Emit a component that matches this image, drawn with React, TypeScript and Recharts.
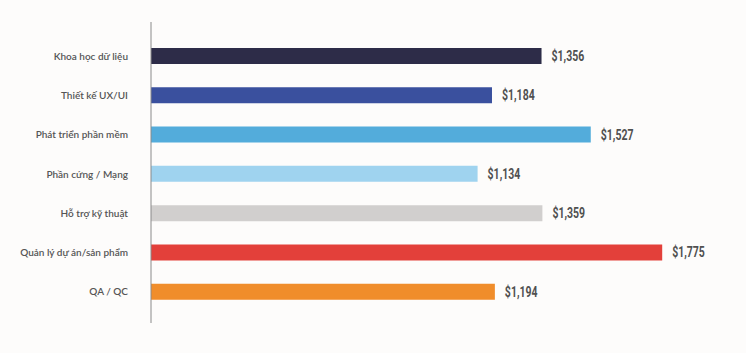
import { BarChart, Bar, XAxis, YAxis, Cell, LabelList } from 'recharts';

const categories = [
  'Khoa học dữ liệu',
  'Thiết kế UX/UI',
  'Phát triển phần mềm',
  'Phần cứng / Mạng',
  'Hỗ trợ kỹ thuật',
  'Quản lý dự án/sản phẩm',
  'QA / QC',
];
const salaries = [1356, 1184, 1527, 1134, 1359, 1775, 1194];
const barColors = ['#2d2c48', '#3a509e', '#53acdb', '#9fd3ef', '#d1cfce', '#e3403a', '#f08d2b'];

const data = categories.map((name, i) => ({ name, value: salaries[i] }));

function CategoryTick(props: any) {
  const { x, y, payload } = props;
  return (
    <text
      x={x - 15}
      y={y}
      dy={4}
      textAnchor="end"
      fill="#555"
      fontSize={10}
      fontWeight={600}
      fontFamily="Lato, sans-serif"
    >
      {payload.value}
    </text>
  );
}

function ValueLabel(props: any) {
  const { x, y, width, height, value } = props;
  const lx = x + width + 10;
  const ly = y + height / 2 + 5;
  return (
    <text
      transform={`translate(${lx}, ${ly}) scale(0.7, 1)`}
      fill="#505050"
      fontSize={15}
      fontWeight={700}
      fontFamily="Roboto, sans-serif"
    >
      {`$${Number(value).toLocaleString('en-US')}`}
    </text>
  );
}

export default function App() {
  return (
    <div style={{ position: 'absolute', left: 0, top: 0, width: 746, height: 353, background: '#fdfcfb' }}>
      <BarChart
        width={746}
        height={353}
        data={data}
        layout="vertical"
        margin={{ top: 22, right: 19, bottom: 30, left: 0 }}
      >
        <XAxis type="number" domain={[0, 2000]} hide />
        <YAxis
          type="category"
          dataKey="name"
          width={151}
          padding={{ top: 14, bottom: 12 }}
          axisLine={{ stroke: '#8a8a8a', strokeWidth: 1 }}
          tickLine={false}
          tick={<CategoryTick />}
        />
        <Bar dataKey="value" barSize={16} isAnimationActive={false}>
          {data.map((d, i) => (
            <Cell key={d.name} fill={barColors[i]} />
          ))}
          <LabelList dataKey="value" content={<ValueLabel />} />
        </Bar>
      </BarChart>
    </div>
  );
}
